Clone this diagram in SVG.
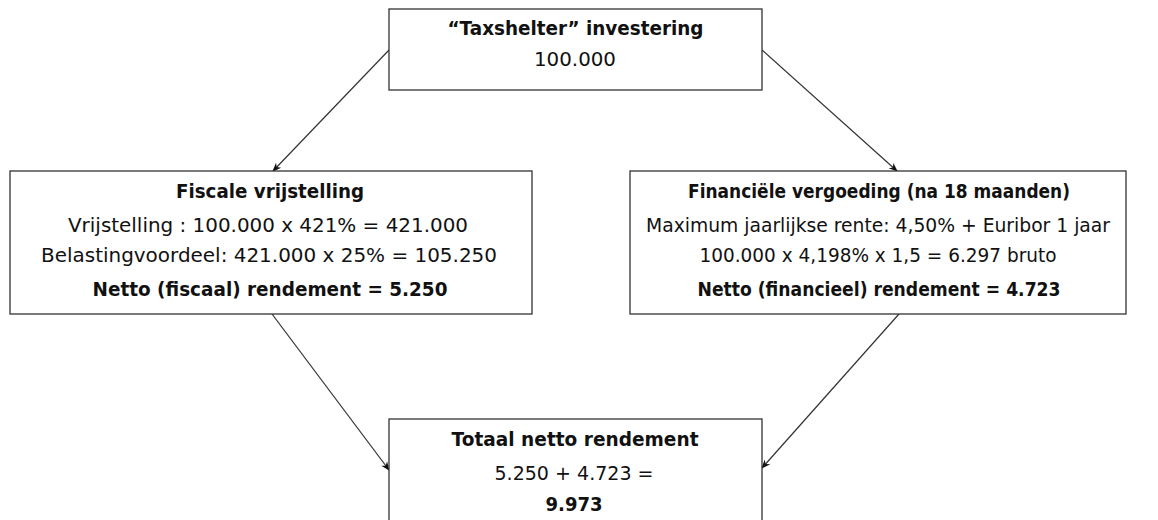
<svg xmlns="http://www.w3.org/2000/svg" width="1158" height="520" viewBox="0 0 1158 520">
<defs>
<style>
.box{fill:#fff;stroke:#333;stroke-width:1.3}
text{font-family:"DejaVu Sans","Liberation Sans",sans-serif;font-size:20px;fill:#111;text-anchor:middle}
.b{font-weight:bold}
.edge{stroke:#333;stroke-width:1.2;fill:none;marker-end:url(#arr)}
</style>
<marker id="arr" viewBox="0 0 10 10" refX="9" refY="5" markerWidth="9" markerHeight="9" markerUnits="userSpaceOnUse" orient="auto">
<path d="M0,1 L10,5 L0,9 L3,5 z" fill="#111"/>
</marker>
</defs>
<rect width="1158" height="520" fill="#fff"/>
<g id="connectors">
<line class="edge" x1="389" y1="50" x2="273" y2="171"/>
<line class="edge" x1="762" y1="50" x2="897" y2="171"/>
<line class="edge" x1="272" y1="314" x2="389" y2="470"/>
<line class="edge" x1="899" y1="314" x2="762" y2="468"/>
</g>
<g id="top">
<rect class="box" x="389" y="9" width="373" height="81"/>
<text class="b" x="575.5" y="35" textLength="256" lengthAdjust="spacingAndGlyphs">“Taxshelter” investering</text>
<text x="575" y="66" textLength="82" lengthAdjust="spacingAndGlyphs">100.000</text>
</g>
<g id="fiscaal">
<rect class="box" x="10" y="171" width="522" height="143"/>
<text class="b" x="270" y="198" textLength="188" lengthAdjust="spacingAndGlyphs">Fiscale vrijstelling</text>
<text x="268" y="232" textLength="400" lengthAdjust="spacingAndGlyphs">Vrijstelling : 100.000 x 421% = 421.000</text>
<text x="269" y="262" textLength="456" lengthAdjust="spacingAndGlyphs">Belastingvoordeel: 421.000 x 25% = 105.250</text>
<text class="b" x="270" y="296" textLength="355" lengthAdjust="spacingAndGlyphs">Netto (fiscaal) rendement = 5.250</text>
</g>
<g id="financieel">
<rect class="box" x="630" y="171" width="496" height="143"/>
<text class="b" x="879" y="198" textLength="382" lengthAdjust="spacingAndGlyphs">Financiële vergoeding (na 18 maanden)</text>
<text x="878" y="232" textLength="464" lengthAdjust="spacingAndGlyphs">Maximum jaarlijkse rente: 4,50% + Euribor 1 jaar</text>
<text x="878" y="262" textLength="357" lengthAdjust="spacingAndGlyphs">100.000 x 4,198% x 1,5 = 6.297 bruto</text>
<text class="b" x="879" y="296" textLength="363" lengthAdjust="spacingAndGlyphs">Netto (financieel) rendement = 4.723</text>
</g>
<g id="totaal">
<rect class="box" x="389" y="419" width="373" height="104"/>
<text class="b" x="575" y="446" textLength="247" lengthAdjust="spacingAndGlyphs">Totaal netto rendement</text>
<text x="574" y="480" textLength="159" lengthAdjust="spacingAndGlyphs">5.250 + 4.723 =</text>
<text class="b" x="574" y="511" textLength="57" lengthAdjust="spacingAndGlyphs">9.973</text>
</g>
</svg>
